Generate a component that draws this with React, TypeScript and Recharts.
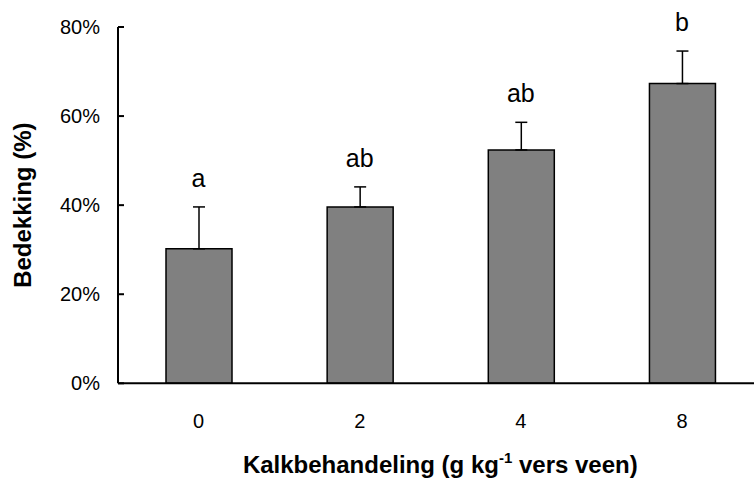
import React from "react";
import {
  ComposedChart,
  Bar,
  Line,
  XAxis,
  YAxis,
  ErrorBar,
  LabelList,
  Label,
} from "recharts";

// Lime treatment (g per kg fresh peat) and resulting cover
const treatments = ["0", "2", "4", "8"];
const coverMean = [30.2, 39.6, 52.4, 67.3];
const coverErrUp = [9.4, 4.5, 6.2, 7.3];
const groupLetters = ["a", "ab", "ab", "b"];
const yTicks = [0, 20, 40, 60, 80];

const data = treatments.map((t, i) => ({
  treatment: t,
  mean: coverMean[i],
  err: [0, coverErrUp[i]],
  top: coverMean[i] + coverErrUp[i],
  letter: groupLetters[i],
}));

const FONT = "'Liberation Sans', Arial, Helvetica, sans-serif";

const XTitle = (props: any) => {
  const vb = props.viewBox || {};
  const cx = vb.x + vb.width / 2;
  const y = vb.y + 90;
  return (
    <text
      x={cx}
      y={y}
      textAnchor="middle"
      fontFamily={FONT}
      fontWeight="bold"
      fontSize={24}
      fill="#000"
    >
      <tspan>Kalkbehandeling (g kg</tspan>
      <tspan fontSize={15} dy={-10}>
        -1
      </tspan>
      <tspan dy={10}> vers veen)</tspan>
    </text>
  );
};

const YTitle = (props: any) => {
  const vb = props.viewBox || {};
  const cy = vb.y + vb.height / 2;
  const x = 31;
  return (
    <text
      x={x}
      y={cy}
      transform={`rotate(-90, ${x}, ${cy})`}
      textAnchor="middle"
      fontFamily={FONT}
      fontWeight="bold"
      fontSize={24}
      fill="#000"
    >
      Bedekking (%)
    </text>
  );
};

export default function App() {
  return (
    <div
      style={{
        position: "absolute",
        left: 0,
        top: 0,
        width: 754,
        height: 480,
        overflow: "hidden",
        background: "#fff",
      }}
    >
      <ComposedChart
        width={780}
        height={480}
        data={data}
        margin={{ top: 27, right: 17.4, bottom: 0, left: 0 }}
      >
        <XAxis
          dataKey="treatment"
          height={96.7}
          tickLine={false}
          tickSize={0}
          tickMargin={30.5}
          axisLine={{ stroke: "#000", strokeWidth: 2 }}
          tick={{ fill: "#000", fontSize: 20, fontFamily: FONT }}
          label={<Label content={XTitle} />}
        />
        <YAxis
          width={118}
          domain={[0, 80]}
          ticks={yTicks}
          tickFormatter={(v: number) => `${v}%`}
          tickSize={-6}
          tickMargin={24}
          axisLine={{ stroke: "#000", strokeWidth: 2 }}
          tickLine={{ stroke: "#000", strokeWidth: 2 }}
          tick={{ fill: "#000", fontSize: 20, fontFamily: FONT }}
          label={<Label content={YTitle} />}
        />
        <Bar
          dataKey="mean"
          barSize={66}
          fill="#808080"
          stroke="#000"
          strokeWidth={1.5}
          isAnimationActive={false}
        >
          <ErrorBar
            dataKey="err"
            width={6}
            stroke="#000"
            strokeWidth={1.5}
            direction="y"
          />
        </Bar>
        <Line
          dataKey="top"
          stroke="none"
          dot={false}
          activeDot={false}
          isAnimationActive={false}
        >
          <LabelList
            dataKey="letter"
            position="top"
            offset={20}
            fill="#000"
            fontSize={25}
            fontFamily={FONT}
          />
        </Line>
      </ComposedChart>
    </div>
  );
}
